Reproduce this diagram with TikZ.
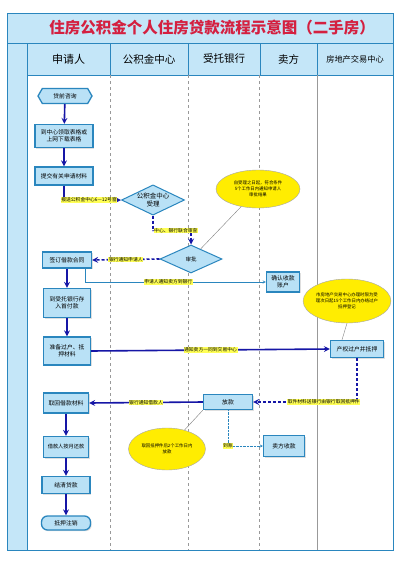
\documentclass[tikz,border=0pt]{standalone}
\usepackage{fontspec}
\setmainfont{Noto Sans CJK SC}
\usetikzlibrary{shapes.geometric, shapes.symbols, arrows, shadows}
\definecolor{lanefill}{HTML}{C4E6F8}
\definecolor{boxfill}{HTML}{B9E1F6}
\definecolor{boxline}{HTML}{2A86BE}
\definecolor{flowblue}{HTML}{1616A6}
\definecolor{notefill}{HTML}{FFFF55}
\definecolor{titlered}{HTML}{D42040}
\tikzstyle{process} = [rectangle, text centered, align=center, draw=boxline, line width=1.3pt, fill=boxfill, inner sep=1pt, font=\fontsize{5.8}{7}\selectfont, drop shadow={opacity=0.25, shadow xshift=1.2pt, shadow yshift=-1.2pt}]
\tikzstyle{startstop} = [process, rounded corners=6pt]
\tikzstyle{hexa} = [signal, signal to=east and west, signal pointer angle=120, draw=boxline, line width=1.3pt, fill=boxfill, inner sep=1pt, font=\fontsize{5.8}{7}\selectfont]
\tikzstyle{decision} = [diamond, aspect=2, text centered, align=center, draw=boxline, line width=1pt, fill=boxfill, inner sep=0pt, font=\fontsize{6.5}{8}\selectfont]
\tikzstyle{note} = [ellipse, align=center, draw=gray!70, fill=yellow!95!orange, inner sep=0pt, font=\fontsize{4.4}{6}\selectfont]
\tikzstyle{tag} = [fill=notefill, inner sep=0.6pt, font=\fontsize{4.8}{5}\selectfont]
\tikzstyle{arrow} = [line width=1.6pt, draw=flowblue, ->, >=stealth]
\tikzstyle{darrow} = [arrow, dash pattern=on 3pt off 2pt]
\tikzstyle{thinarrow} = [draw=boxline, thin, ->, >=stealth]
\tikzstyle{dotarrow} = [draw=boxline, thin, densely dotted, ->, >=stealth]
\tikzstyle{noteline} = [draw=gray, thin]
\tikzstyle{lane} = [draw=gray!80, thin, dashed]

\begin{document}
\begin{tikzpicture}[x=1pt, y=-1pt]
    \useasboundingbox (0,0) rectangle (400,570);
    % frame, title and lane heads
    \fill[white] (0,0) rectangle (400,570);
    \draw[boxline, line width=1pt, fill=lanefill] (7,13) rectangle (393,43);
    \node (title) at (212,28) {\fontsize{15.5}{18}\selectfont\bfseries\color{titlered}住房公积金个人住房贷款流程示意图（二手房）};
    \draw[boxline, line width=1pt, fill=lanefill] (7,43) rectangle (27,550);
    \draw[boxline, line width=1pt] (27,75) rectangle (393,550);
    \foreach \xa/\xb/\name/\fs in {27/110/申请人/11, 110/188/公积金中心/10.5, 188/260/受托银行/10.5, 260/317/卖方/10.5, 317/393/房地产交易中心/8.2}
        \node[draw=boxline, line width=1pt, fill=lanefill, minimum width={\xb-\xa}, minimum height=32pt, inner sep=0pt, font=\fontsize{\fs}{12}\selectfont] at ({(\xa+\xb)/2},59) {\name};
    \draw[lane] (110,75) -- (110,550);
    \draw[lane] (188,75) -- (188,550);
    \draw[lane] (259,75) -- (259,550);
    \draw[gray!80, thin] (317,75) -- (317,550);

    % steps
    \node (zixun) [hexa, minimum width=54pt, minimum height=15pt] at (65,96) {贷前咨询};
    \node (biaoge) [process, minimum width=58pt, minimum height=23pt] at (64,136) {到中心领取表格或\\上网下载表格};
    \node (tijiao) [process, minimum width=58pt, minimum height=18pt] at (64,176) {提交有关申请材料};
    \node (shouli) [decision, minimum width=63pt, minimum height=30pt] at (153,200) {公积金中心\\受理};
    \node (shenpi) [decision, minimum width=62pt, minimum height=28pt] at (191,259) {\fontsize{5.5}{6}\selectfont 审批};
    \node (note1) [note, minimum width=84pt, minimum height=38pt] at (258,189) {自受理之日起，符合条件\\5个工作日内通知申请人\\审批结果};
    \node (hetong) [process, minimum width=49pt, minimum height=16pt] at (67,260) {签订借款合同};
    \node (zhanghu) [process, minimum width=33pt, minimum height=20pt] at (283,282) {确认收款\\账户};
    \node (shoufu) [process, minimum width=47pt, minimum height=29pt] at (67,303) {到受托银行存\\入首付款};
    \node (cailiao) [process, minimum width=47pt, minimum height=28pt] at (67,351) {准备过户、抵\\押材料};
    \node (note2) [note, minimum width=84pt, minimum height=44pt] at (347,301) {市房地产交易中心办理时限为受\\理次日起15个工作日内办结过户\\抵押登记};
    \node (guohu) [process, minimum width=53pt, minimum height=17pt] at (357,349) {产权过户并抵押};
    \node (quhui) [process, minimum width=45pt, minimum height=20pt] at (66,403) {取回借款材料};
    \node (fangkuan) [process, minimum width=49pt, minimum height=15pt] at (228,402) {放款};
    \node (note3) [note, minimum width=77pt, minimum height=42pt] at (167,449) {取回抵押件后2个工作日内\\放款};
    \node (maifang) [process, minimum width=41pt, minimum height=21pt] at (284,446) {卖方收款};
    \node (huankuan) [process, minimum width=45pt, minimum height=21pt, font=\fontsize{5.2}{6}\selectfont] at (66,447) {借款人按月还款};
    \node (jieqing) [process, minimum width=48pt, minimum height=17pt] at (66,485) {结清贷款};
    \node (zhuxiao) [startstop, minimum width=49pt, minimum height=14pt] at (66,523) {抵押注销};

    % flow
    \draw [arrow] (zixun) -- (biaoge);
    \draw [arrow] (biaoge) -- (tijiao);
    \draw [arrow] (tijiao.south) |- (shouli.west) node[tag, pos=0.72] {报送公积金中心6—12号窗};
    \draw [darrow] (shouli.south) -- ++(0,15) -| (shenpi.north) node[tag, pos=0.3] {中心、银行联合审查};
    \draw [noteline] (note1) -- (shenpi);
    \draw [darrow] (shenpi.west) -- (hetong.east) node[tag, midway] {银行通知申请人};
    \draw [thinarrow] ([xshift=-7pt]hetong.south east) |- (zhanghu.west) node[tag, pos=0.73] {申请人通知卖方到银行};
    \draw [arrow] (hetong) -- (shoufu);
    \draw [arrow] (shoufu) -- (cailiao);
    \draw [noteline] (note2.south) -- ([xshift=-15pt]guohu.north);
    \draw [arrow] (cailiao.east) -- (guohu.west) node[tag, midway] {通知卖方一同到交易中心};
    \draw [darrow] (guohu.south) |- (fangkuan.east) node[tag, pos=0.66] {取件材料送银行由银行取回抵押件};
    \draw [arrow] (fangkuan.west) -- (quhui.east) node[tag, midway] {银行通知借款人};
    \draw [noteline] (note3) -- (fangkuan.south west);
    \draw [dotarrow] (fangkuan.south) |- (maifang.west) node[tag, pos=0.5] {到账};
    \draw [arrow] (quhui) -- (huankuan);
    \draw [arrow] (huankuan) -- (jieqing);
    \draw [arrow] (jieqing) -- (zhuxiao);
\end{tikzpicture}
\end{document}
